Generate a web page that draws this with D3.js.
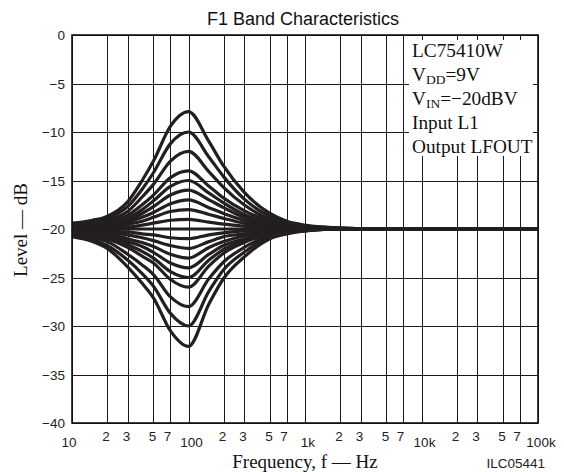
<!DOCTYPE html>
<html>
<head>
<meta charset="utf-8">
<script src="https://cdn.jsdelivr.net/npm/d3@7"></script>
<style>
  html, body { margin: 0; padding: 0; background: #fff; }
  svg { display: block; }
</style>
</head>
<body>
<svg id="chart" width="564" height="472"></svg>
<script>
// ---------- data ----------
const title = "F1 Band Characteristics";
const xTitle = "Frequency, f \u2014 Hz";
const yTitle = "Level \u2014 dB";
const code = "ILC05441";

const freqs = [10, 15, 20, 30, 40, 50, 70, 100, 150, 200, 300, 500, 700, 1000, 2000, 5000, 10000, 100000];

const boost12 = [-19.4, -19.1, -18.7, -17.2, -15.0, -13.0, -9.4, -7.9, -11.0, -13.5, -16.2, -18.4, -19.2, -19.6, -19.9, -20, -20, -20];
const boost10 = [-19.5, -19.3, -18.9, -17.7, -15.9, -14.2, -11.2, -10.0, -12.6, -14.6, -16.9, -18.7, -19.3, -19.7, -19.9, -20, -20, -20];
const boost8  = [-19.6, -19.4, -19.1, -18.2, -16.7, -15.4, -13.0, -12.0, -14.1, -15.7, -17.5, -19.0, -19.5, -19.7, -19.9, -20, -20, -20];
const boost6  = [-19.7, -19.6, -19.3, -18.6, -17.5, -16.5, -14.7, -14.0, -15.6, -16.8, -18.1, -19.2, -19.6, -19.8, -20, -20, -20, -20];
const boost5  = [-19.8, -19.6, -19.5, -18.9, -18.0, -17.1, -15.6, -15.0, -16.3, -17.3, -18.5, -19.4, -19.7, -19.8, -20, -20, -20, -20];
const boost4  = [-19.8, -19.7, -19.6, -19.1, -18.4, -17.7, -16.5, -16.0, -17.0, -17.8, -18.8, -19.5, -19.7, -19.9, -20, -20, -20, -20];
const boost3  = [-19.9, -19.8, -19.7, -19.3, -18.8, -18.3, -17.4, -17.0, -17.8, -18.4, -19.1, -19.6, -19.8, -19.9, -20, -20, -20, -20];
const boost2  = [-19.9, -19.9, -19.8, -19.5, -19.2, -18.8, -18.2, -18.0, -18.5, -18.9, -19.4, -19.7, -19.9, -19.9, -20, -20, -20, -20];
const boost1  = [-20.0, -19.9, -19.9, -19.8, -19.6, -19.4, -19.1, -19.0, -19.3, -19.5, -19.7, -19.9, -19.9, -20, -20, -20, -20, -20];
const flat0   = [-20, -20, -20, -20, -20, -20, -20, -20, -20, -20, -20, -20, -20, -20, -20, -20, -20, -20];
const cut1    = [-20.1, -20.1, -20.2, -20.3, -20.5, -20.6, -20.9, -21.0, -20.6, -20.4, -20.2, -20.1, -20.0, -20, -20, -20, -20, -20];
const cut2    = [-20.1, -20.2, -20.3, -20.6, -20.9, -21.2, -21.7, -22.0, -21.3, -20.8, -20.5, -20.2, -20.1, -20, -20, -20, -20, -20];
const cut3    = [-20.2, -20.3, -20.5, -21.0, -21.4, -21.8, -22.6, -23.0, -21.9, -21.3, -20.7, -20.2, -20.1, -20.1, -20, -20, -20, -20];
const cut4    = [-20.3, -20.4, -20.7, -21.3, -21.8, -22.4, -23.5, -24.0, -22.6, -21.7, -21.0, -20.3, -20.2, -20.1, -20, -20, -20, -20];
const cut5    = [-20.3, -20.5, -20.8, -21.6, -22.3, -23.0, -24.4, -25.0, -23.2, -22.1, -21.2, -20.4, -20.2, -20.1, -20, -20, -20, -20];
const cut6    = [-20.4, -20.6, -21.0, -21.9, -22.8, -23.5, -25.2, -26.0, -23.8, -22.5, -21.4, -20.5, -20.2, -20.1, -20, -20, -20, -20];
const cut8    = [-20.5, -20.9, -21.3, -22.6, -23.7, -24.7, -27.0, -28.0, -25.1, -23.4, -21.9, -20.7, -20.3, -20.1, -20, -20, -20, -20];
const cut10   = [-20.7, -21.1, -21.7, -23.2, -24.6, -25.9, -28.7, -30.0, -26.4, -24.2, -22.4, -20.8, -20.4, -20.2, -20, -20, -20, -20];
const cut12   = [-20.8, -21.3, -22.0, -23.9, -25.6, -27.1, -30.5, -32.1, -27.7, -25.1, -22.9, -21.0, -20.5, -20.2, -20, -20, -20, -20];

const series = [boost12, boost10, boost8, boost6, boost5, boost4, boost3, boost2, boost1, flat0,
                cut1, cut2, cut3, cut4, cut5, cut6, cut8, cut10, cut12];

const yTicks = [0, -5, -10, -15, -20, -25, -30, -35, -40];
const decadeTicks = [10, 100, 1000, 10000, 100000];
const decadeLabels = ["10", "100", "1k", "10k", "100k"];
const minorMultipliers = [2, 3, 5, 7];
const legendLines = [
  {main: "LC75410W", sub: "", rest: ""},
  {main: "V", sub: "DD", rest: "=9V"},
  {main: "V", sub: "IN", rest: "=\u221220dBV"},
  {main: "Input L1", sub: "", rest: ""},
  {main: "Output LFOUT", sub: "", rest: ""}
];

// ---------- layout ----------
const svg = d3.select("#chart");
const L = 72, R = 538, T = 35, B = 423;
const x = d3.scaleLog().domain([10, 100000]).range([L, R]);
const y = d3.scaleLinear().domain([-40, 0]).range([B, T]);

const minorFreqs = [];
[10, 100, 1000, 10000].forEach(d => minorMultipliers.forEach(m => minorFreqs.push({f: d * m, m})));
const gridX = decadeTicks.concat(minorFreqs.map(d => d.f));

const sans = "'Liberation Sans', Arial, sans-serif";
const serif = "'Liberation Serif', 'Times New Roman', serif";

// grid
const grid = svg.append("g").attr("stroke", "#1a1a1a").attr("stroke-width", 1.2).attr("shape-rendering", "crispEdges");
grid.selectAll("line.v").data(gridX).join("line")
  .attr("x1", d => Math.round(x(d)) + 0.5).attr("x2", d => Math.round(x(d)) + 0.5)
  .attr("y1", T).attr("y2", B);
grid.selectAll("line.h").data(yTicks).join("line")
  .attr("x1", L).attr("x2", R)
  .attr("y1", d => Math.round(y(d)) + 0.5).attr("y2", d => Math.round(y(d)) + 0.5);

// legend box (white patch over grid, leaving short tick stubs on top/right)
const boxX0 = 409, boxY1 = 156, stub = 5;
svg.append("rect").attr("x", boxX0).attr("y", T + stub).attr("width", R - stub - boxX0)
  .attr("height", boxY1 - (T + stub)).attr("fill", "#fff");

// legend text
const lg = svg.append("g").attr("font-family", serif).attr("fill", "#111");
legendLines.forEach((d, i) => {
  const t = lg.append("text").attr("x", 412).attr("y", 57 + i * 24).attr("font-size", 19.3);
  t.append("tspan").text(d.main);
  if (d.sub) {
    t.append("tspan").attr("font-size", 13.5).attr("dy", 3).text(d.sub);
    t.append("tspan").attr("dy", -3).text(d.rest);
  }
});

// curves
const line = d3.line().x((d, i) => x(freqs[i])).y(d => y(d)).curve(d3.curveMonotoneX);
svg.append("g").attr("fill", "none").attr("stroke", "#231f20").attr("stroke-width", 3.2).attr("stroke-linejoin", "round")
  .selectAll("path").data(series).join("path").attr("d", line);

// frame
svg.append("rect").attr("x", L).attr("y", T).attr("width", R - L).attr("height", B - T)
  .attr("fill", "none").attr("stroke", "#111").attr("stroke-width", 1.6);

// y tick labels
svg.append("g").attr("font-family", sans).attr("font-size", 13.5).attr("fill", "#222").attr("text-anchor", "end")
  .selectAll("text").data(yTicks).join("text")
  .attr("x", 65).attr("y", d => y(d) + 5)
  .text(d => d === 0 ? "0" : "\u2212" + Math.abs(d));

// x tick labels
const xl = svg.append("g").attr("font-family", sans).attr("fill", "#222").attr("text-anchor", "middle");
xl.selectAll("text.dec").data(decadeTicks).join("text")
  .attr("x", (d, i) => x(d) + (i === 0 ? -3 : 3)).attr("y", 447).attr("font-size", 13.5)
  .text((d, i) => decadeLabels[i]);
xl.selectAll("text.min").data(minorFreqs).join("text")
  .attr("x", d => x(d.f) + (d.m === 7 ? -3 : -1)).attr("y", 441).attr("font-size", 13.5)
  .text(d => d.m);

// titles
svg.append("text").attr("x", 303).attr("y", 25).attr("text-anchor", "middle")
  .attr("font-family", sans).attr("font-size", 18).attr("fill", "#111").text(title);
svg.append("text").attr("x", 305).attr("y", 468).attr("text-anchor", "middle")
  .attr("font-family", serif).attr("font-size", 19).attr("fill", "#111").text(xTitle);
svg.append("text").attr("x", 545).attr("y", 468).attr("text-anchor", "end")
  .attr("font-family", sans).attr("font-size", 13.5).attr("fill", "#222").text(code);
svg.append("text").attr("transform", "translate(27,230) rotate(-90)").attr("text-anchor", "middle")
  .attr("font-family", serif).attr("font-size", 19).attr("fill", "#111").text(yTitle);
</script>
</body>
</html>
